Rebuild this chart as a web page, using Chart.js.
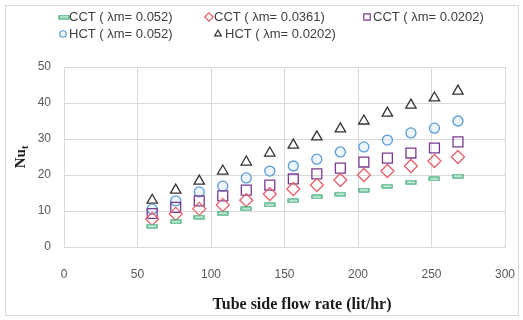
<!DOCTYPE html>
<html>
<head>
<meta charset="utf-8">
<script src="https://cdn.jsdelivr.net/npm/chart.js@4/dist/chart.umd.min.js"></script>
<style>
  html, body { margin: 0; padding: 0; background: #fff; }
  #wrap { width: 523px; height: 320px; }
</style>
</head>
<body>
<div id="wrap"><canvas id="nuChart" width="523" height="320"></canvas></div>
<script>
// flow rate (lit/hr)
const flowRate = [60, 76, 92, 108, 124, 140, 156, 172, 188, 204, 220, 236, 252, 268];

// Nu_t for each configuration
const cct052  = [5.8, 7.0, 8.3, 9.4, 10.6, 11.7, 12.8, 13.9, 14.7, 15.8, 16.9, 18.0, 18.9, 19.7];
const cct0361 = [7.8, 9.2, 10.6, 11.7, 13.0, 14.7, 16.1, 17.2, 18.6, 20.0, 21.1, 22.5, 23.9, 25.0];
const cct0202 = [9.3, 11.0, 12.8, 14.2, 15.8, 17.2, 18.9, 20.3, 21.9, 23.6, 24.7, 26.1, 27.5, 29.2];
const hct052  = [10.5, 12.8, 15.3, 16.9, 19.2, 21.1, 22.5, 24.4, 26.4, 27.8, 29.7, 31.7, 33.0, 35.0];
const hct0202 = [13.0, 15.8, 18.3, 21.1, 23.6, 26.1, 28.3, 30.6, 32.8, 35.0, 37.2, 39.4, 41.4, 43.3];

const seriesLabels = ['CCT ( λm= 0.052)', 'CCT ( λm= 0.0361)', 'CCT ( λm= 0.0202)', 'HCT ( λm= 0.052)', 'HCT ( λm= 0.0202)'];
const xTicks = [0, 50, 100, 150, 200, 250, 300];
const yTicks = [0, 10, 20, 30, 40, 50];
const xTitle = 'Tube side flow rate (lit/hr)';

// flat dash marker (excel "-" marker)
function dashMarker(color) {
    const c = document.createElement('canvas');
    c.width = 12; c.height = 5;
    const g = c.getContext('2d');
    g.fillStyle = '#eef9f2';
    g.fillRect(1, 1, 10, 3);
    g.strokeStyle = color;
    g.lineWidth = 1.2;
    g.strokeRect(1, 1, 10, 3);
    return c;
}
const greenDash = dashMarker('#2ea56b');

function toPoints(ys) {
    return flowRate.map((x, i) => ({ x: x, y: ys[i] }));
}

const styles = [
    { color: '#2ea56b', fill: '#eef9f2', pointStyle: greenDash, radius: 6 },
    { color: '#e3616b', fill: 'rgba(255,255,255,0)', pointStyle: 'rectRot', radius: 6.5 },
    { color: '#7a3a8f', fill: 'rgba(255,255,255,0)', pointStyle: 'rect', radius: 7 },
    { color: '#5b9bd5', fill: 'rgba(220,235,250,0.5)', pointStyle: 'circle', radius: 5 },
    { color: '#333333', fill: 'rgba(255,255,255,0)', pointStyle: 'triangle', radius: 6 }
];
const allSeries = [cct052, cct0361, cct0202, hct052, hct0202];

const datasets = allSeries.map((ys, i) => ({
    label: seriesLabels[i],
    data: toPoints(ys),
    showLine: false,
    pointStyle: styles[i].pointStyle,
    pointRadius: styles[i].radius,
    pointHoverRadius: styles[i].radius,
    pointBorderWidth: 1.3,
    borderColor: styles[i].color,
    backgroundColor: styles[i].fill
}));

// legend laid out in a grid like excel does
const legendSpots = [
    { x: 64, y: 17, tx: 69 },
    { x: 209, y: 17, tx: 214 },
    { x: 367, y: 17, tx: 373 },
    { x: 63, y: 34, tx: 69 },
    { x: 218, y: 34, tx: 225 }
];

const gridLegend = {
    id: 'gridLegend',
    afterDraw(chart) {
        const ctx = chart.ctx;
        ctx.save();
        // outer frame
        ctx.strokeStyle = '#d9d9d9';
        ctx.lineWidth = 1;
        ctx.strokeRect(5.5, 5.5, 513, 310);

        ctx.font = '13px "Liberation Sans", Arial, sans-serif';
        ctx.textBaseline = 'middle';
        ctx.textAlign = 'left';
        legendSpots.forEach((p, i) => {
            const st = styles[i];
            ctx.strokeStyle = st.color;
            ctx.fillStyle = st.fill;
            ctx.lineWidth = 1.2;
            let r = st.radius * 0.65;
            if (i === 0) r = st.radius;
            Chart.helpers.drawPoint(ctx, { pointStyle: st.pointStyle, radius: r, rotation: 0, borderWidth: 1.2 }, p.x, p.y);
            ctx.fillStyle = '#404040';
            ctx.fillText(seriesLabels[i], p.tx, p.y);
        });

        // x axis title (excel puts it a little right of the plot centre)
        ctx.fillStyle = '#1a1a1a';
        ctx.textAlign = 'center';
        ctx.font = 'bold 16px "Liberation Serif", "Times New Roman", serif';
        ctx.fillText(xTitle, 302, 305);

        // y axis title: Nu with subscript t, rotated
        ctx.textAlign = 'left';
        ctx.translate(20, 157);
        ctx.rotate(-Math.PI / 2);
        ctx.textBaseline = 'alphabetic';
        ctx.font = 'bold 15px "Liberation Serif", "Times New Roman", serif';
        const nuW = ctx.measureText('Nu').width;
        ctx.font = 'bold 10px "Liberation Serif", "Times New Roman", serif';
        const tW = ctx.measureText('t').width;
        const startX = -(nuW + tW) / 2;
        ctx.font = 'bold 15px "Liberation Serif", "Times New Roman", serif';
        ctx.fillText('Nu', startX, 5);
        ctx.font = 'bold 10px "Liberation Serif", "Times New Roman", serif';
        ctx.fillText('t', startX + nuW, 8);
        ctx.restore();
    }
};

const ctx = document.getElementById('nuChart').getContext('2d');
new Chart(ctx, {
    type: 'scatter',
    data: { datasets: datasets },
    options: {
        responsive: false,
        maintainAspectRatio: false,
        animation: false,
        layout: {
            padding: { left: 0, right: 18, top: 67, bottom: 0 }
        },
        scales: {
            x: {
                type: 'linear',
                min: 0,
                max: 300,
                afterBuildTicks: (scale) => { scale.ticks = xTicks.map(v => ({ value: v })); },
                afterFit: (scale) => {
                    scale.height = 73;
                    scale.paddingLeft = 0;
                    scale.paddingRight = 0;
                },
                grid: { color: '#d9d9d9', drawTicks: false },
                border: { color: '#d9d9d9' },
                ticks: {
                    color: '#595959',
                    padding: 20,
                    font: { family: '"Liberation Sans", Arial, sans-serif', size: 12 }
                }
            },
            y: {
                min: 0,
                max: 50,
                afterBuildTicks: (scale) => { scale.ticks = yTicks.map(v => ({ value: v })); },
                afterFit: (scale) => { scale.width = 64; },
                grid: { color: '#d9d9d9', drawTicks: false },
                border: { color: '#d9d9d9' },
                ticks: {
                    color: '#595959',
                    padding: 13,
                    font: { family: '"Liberation Sans", Arial, sans-serif', size: 12 }
                }
            }
        },
        plugins: {
            legend: { display: false },
            tooltip: { enabled: false }
        }
    },
    plugins: [gridLegend]
});
</script>
</body>
</html>
